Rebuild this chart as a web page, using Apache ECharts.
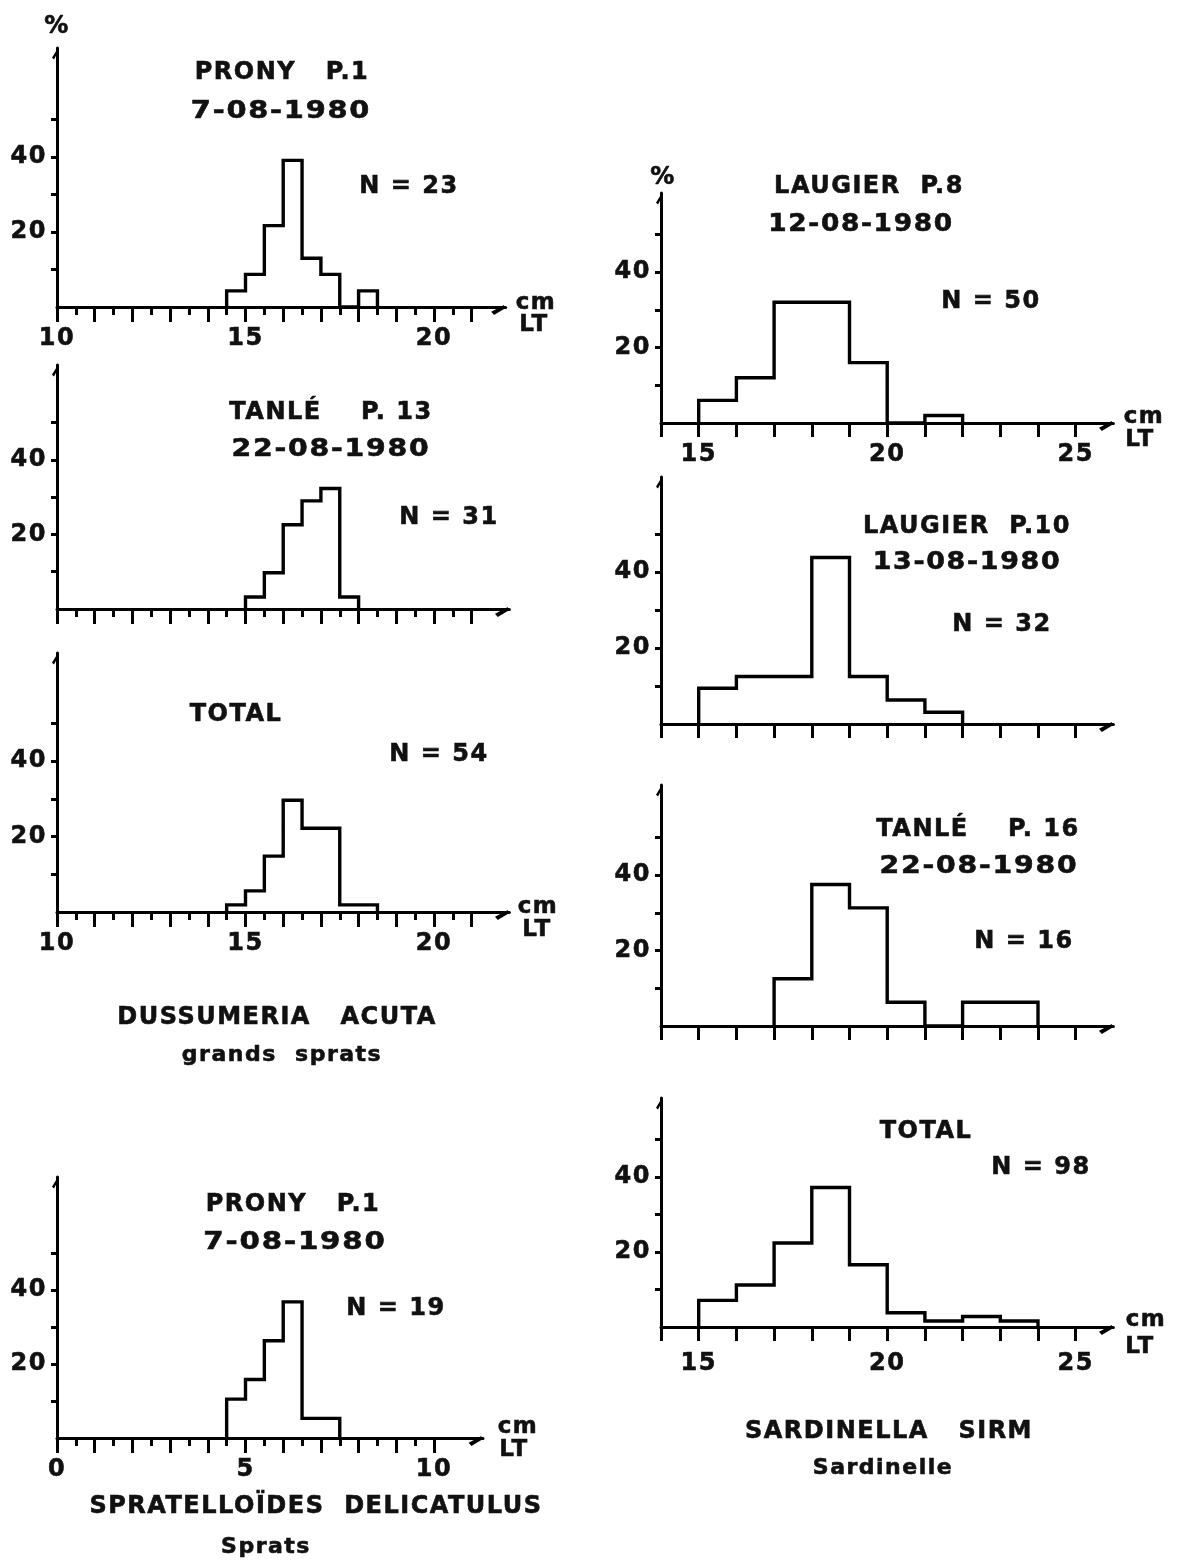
<!DOCTYPE html>
<html><head><meta charset="utf-8">
<script src="https://cdn.jsdelivr.net/npm/echarts@6/dist/echarts.min.js"></script>
<style>html,body{margin:0;padding:0;background:#fff}#c{width:1181px;height:1561px}</style>
</head><body><div id="c"></div>
<script>
// ---------- DATA (percent per length class, lower bin edges in cm) ----------
const dussProny1Bins = [14.5, 15, 15.5, 16, 16.5, 17, 17.5, 18];
const dussProny1Pct  = [4.3, 8.7, 21.7, 39.1, 13.0, 8.7, 0, 4.3];
const dussTanle13Bins = [15, 15.5, 16, 16.5, 17, 17.5];
const dussTanle13Pct  = [3.2, 9.7, 22.6, 29.0, 32.3, 3.2];
const dussTotalBins = [14.5, 15, 15.5, 16, 16.5, 17, 17.5, 18];
const dussTotalPct  = [1.9, 5.6, 14.8, 29.6, 22.2, 22.2, 1.9, 1.9];
const spratProny1Bins = [4.5, 5, 5.5, 6, 6.5, 7];
const spratProny1Pct  = [10.5, 15.8, 26.3, 36.8, 5.3, 5.3];
const sardLaugier8Bins = [15, 16, 17, 18, 19, 20, 21];
const sardLaugier8Pct  = [6, 12, 32, 32, 16, 0, 2];
const sardLaugier10Bins = [15, 16, 17, 18, 19, 20, 21];
const sardLaugier10Pct  = [9.4, 12.5, 12.5, 43.8, 12.5, 6.3, 3.1];
const sardTanle16Bins = [17, 18, 19, 20, 21, 22, 23];
const sardTanle16Pct  = [12.5, 37.5, 31.3, 6.3, 0, 6.3, 6.3];
const sardTotalBins = [15, 16, 17, 18, 19, 20, 21, 22, 23];
const sardTotalPct  = [7.1, 11.2, 22.4, 37.2, 16.6, 3.8, 1.6, 2.8, 1.6];

// tick labels
const yTickValues = [10, 20, 30, 40, 50];
const yLabelValues = [20, 40];
const dussXLabels = [10, 15, 20];
const spratXLabels = [0, 5, 10];
const sardXLabels = [15, 20, 25];
const dussXMajor = [10,11,12,13,14,15,16,17,18,19,20,21];
const dussXMinor = [10.5,11.5,12.5,13.5,14.5,15.5,16.5,17.5,18.5,19.5,20.5];
const spratXMajor = [0,1,2,3,4,5,6,7,8,9,10];
const spratXMinor = [0.5,1.5,2.5,3.5,4.5,5.5,6.5,7.5,8.5,9.5];
const sardXMajor = [14,15,16,17,18,19,20,21,22,23,24,25];

// ---------- letter spacing emulation for the stencil lettering ----------
(function(){
  const P = CanvasRenderingContext2D.prototype;
  if (!('letterSpacing' in P)) return;
  const f = P.fillText, s = P.strokeText, m = P.measureText;
  P.fillText = function(){ this.letterSpacing = '1.5px'; return f.apply(this, arguments); };
  P.strokeText = function(){ this.letterSpacing = '1.5px'; return s.apply(this, arguments); };
  P.measureText = function(){ this.letterSpacing = '1.5px'; return m.apply(this, arguments); };
})();

// ---------- LAYOUT ----------
const PX_PER_CM = 37.7;
const FONT = '"DejaVu Sans", "Liberation Sans", sans-serif';
const INK = '#111';
const panels = [
  {bins: dussProny1Bins, pct: dussProny1Pct, w: 0.5, left: 57, top: 48, base: 307, pxu: 3.75, xMin: 10, xMax: 21.9, major: dussXMajor, minor: dussXMinor, labels: dussXLabels, lm: 19},
  {bins: dussTanle13Bins, pct: dussTanle13Pct, w: 0.5, left: 57, top: 365, base: 609, pxu: 3.73, xMin: 10, xMax: 22.0, major: dussXMajor, minor: dussXMinor, labels: [], lm: 19},
  {bins: dussTotalBins, pct: dussTotalPct, w: 0.5, left: 57, top: 653, base: 912, pxu: 3.775, xMin: 10, xMax: 22.0, major: dussXMajor, minor: dussXMinor, labels: dussXLabels, lm: 19},
  {bins: spratProny1Bins, pct: spratProny1Pct, w: 0.5, left: 57, top: 1177, base: 1438, pxu: 3.7, xMin: 0, xMax: 11.3, major: spratXMajor, minor: spratXMinor, labels: spratXLabels, lm: 19},
  {bins: sardLaugier8Bins, pct: sardLaugier8Pct, w: 1, left: 661, top: 193, base: 423, pxu: 3.775, xMin: 14, xMax: 26.0, major: sardXMajor, minor: null, labels: sardXLabels, lm: 19},
  {bins: sardLaugier10Bins, pct: sardLaugier10Pct, w: 1, left: 661, top: 477, base: 724, pxu: 3.8, xMin: 14, xMax: 26.0, major: sardXMajor, minor: null, labels: [], lm: 19},
  {bins: sardTanle16Bins, pct: sardTanle16Pct, w: 1, left: 661, top: 785, base: 1026, pxu: 3.775, xMin: 14, xMax: 26.0, major: sardXMajor, minor: null, labels: [], lm: 19},
  {bins: sardTotalBins, pct: sardTotalPct, w: 1, left: 661, top: 1098, base: 1327, pxu: 3.75, xMin: 14, xMax: 26.0, major: sardXMajor, minor: null, labels: sardXLabels, lm: 24}
];

// [text, centreX, centreY, fontSize, horizontal stretch]
const texts = [
  ['%', 57, 27, 24, 1],
  ['PRONY   P.1', 282, 73, 24, 1], ['7-08-1980', 281, 112, 24, 1.2], ['N = 23', 409, 187, 24, 1],
  ['cm', 536, 303, 23, 1], ['LT', 534, 325, 23, 1],
  ['TANLÉ    P. 13', 331, 413, 24, 1], ['22-08-1980', 331, 450, 24, 1.18], ['N = 31', 449, 518, 24, 1],
  ['TOTAL', 236, 715, 24, 1], ['N = 54', 439, 755, 24, 1], ['cm', 538, 907, 23, 1], ['LT', 537, 930, 23, 1],
  ['DUSSUMERIA   ACUTA', 277, 1018, 24, 1], ['grands  sprats', 282, 1055, 22, 1],
  ['PRONY   P.1', 293, 1205, 24, 1], ['7-08-1980', 295, 1243, 24, 1.22], ['N = 19', 396, 1309, 24, 1],
  ['cm', 518, 1427, 23, 1], ['LT', 514, 1450, 23, 1],
  ['SPRATELLOÏDES  DELICATULUS', 316, 1507, 24, 1], ['Sprats', 266, 1547, 22, 1],
  ['%', 663, 178, 24, 1], ['LAUGIER  P.8', 869, 187, 24, 1], ['12-08-1980', 861, 225, 24, 1.1], ['N = 50', 991, 302, 24, 1],
  ['cm', 1144, 417, 23, 1], ['LT', 1140, 440, 23, 1],
  ['LAUGIER  P.10', 967, 527, 24, 1], ['13-08-1980', 967, 563, 24, 1.12], ['N = 32', 1002, 625, 24, 1],
  ['TANLÉ    P. 16', 978, 830, 24, 1], ['22-08-1980', 979, 867, 24, 1.18], ['N = 16', 1024, 942, 24, 1],
  ['TOTAL', 926, 1132, 24, 1], ['N = 98', 1041, 1168, 24, 1], ['cm', 1146, 1320, 23, 1], ['LT', 1140, 1347, 23, 1],
  ['SARDINELLA   SIRM', 889, 1432, 24, 1], ['Sardinelle', 883, 1468, 22, 1]
];

const X_ARROW = 'path://M0 16 M7.5 0 L12.5 0 L20 12.5 L16 16 Z';
const Y_ARROW = 'path://M20 16 M7.5 0 L12.5 0 L4 16 L0 12.5 Z';
const AX = {color: '#000', width: 3};
const LBL = {color: INK, fontFamily: FONT, fontWeight: 'bold', fontSize: 24, textBorderColor: INK, textBorderWidth: 0.6};

function stepPoints(bins, pct, w) {
  const pts = [[bins[0], 0]];
  bins.forEach((b, i) => pts.push([b, pct[i]]));
  const last = bins[bins.length - 1] + w;
  pts.push([last, pct[pct.length - 1]]);
  pts.push([last, 0]);
  return pts;
}

const grid = [], xAxis = [], yAxis = [], series = [];
panels.forEach((p, i) => {
  grid.push({left: p.left, top: p.top, width: (p.xMax - p.xMin) * PX_PER_CM, height: p.base - p.top,
             containLabel: false, outerBoundsMode: 'none'});
  xAxis.push({type: 'value', gridIndex: i, min: p.xMin, max: p.xMax, position: 'bottom',
    axisLine: {show: true, onZero: false, lineStyle: AX, symbol: ['none', X_ARROW], symbolSize: [16, 16], symbolOffset: [0, -8]},
    axisTick: {show: true, customValues: p.major, length: p.minor ? 15 : 14, lineStyle: AX},
    axisLabel: Object.assign({show: p.labels.length > 0, customValues: p.labels, margin: p.lm}, LBL),
    splitLine: {show: false}});
  yAxis.push({type: 'value', gridIndex: i, min: 0, max: (p.base - p.top) / p.pxu,
    axisLine: {show: true, onZero: false, lineStyle: AX, symbol: ['none', Y_ARROW], symbolSize: [10, 15], symbolOffset: [0, -7.5]},
    axisTick: {show: true, customValues: yTickValues, length: 6, lineStyle: AX},
    axisLabel: Object.assign({show: true, customValues: yLabelValues, margin: 10}, LBL),
    splitLine: {show: false}});
  series.push({type: 'line', xAxisIndex: xAxis.length - 1, yAxisIndex: i, step: 'end',
    data: stepPoints(p.bins, p.pct, p.w), showSymbol: false, symbol: 'none', animation: false,
    lineStyle: {color: '#000', width: 3.4, join: 'miter', cap: 'square'}, silent: true});
  if (p.minor) {
    xAxis.push({type: 'value', gridIndex: i, min: p.xMin, max: p.xMax, position: 'bottom',
      axisLine: {show: false, onZero: false},
      axisTick: {show: true, customValues: p.minor, length: 8, lineStyle: AX},
      axisLabel: {show: false}, splitLine: {show: false}});
  }
});

const graphic = texts.map(t => ({
  type: 'text', x: t[1], y: t[2], scaleX: t[4], silent: true,
  style: {text: t[0], fill: INK, fontFamily: FONT, fontWeight: 'bold', fontSize: t[3],
          stroke: INK, lineWidth: 0.6, align: 'center', verticalAlign: 'middle'}
}));

const chart = echarts.init(document.getElementById('c'), null, {renderer: 'canvas'});
chart.setOption({backgroundColor: '#fff', animation: false, grid, xAxis, yAxis, series, graphic});
</script></body></html>
